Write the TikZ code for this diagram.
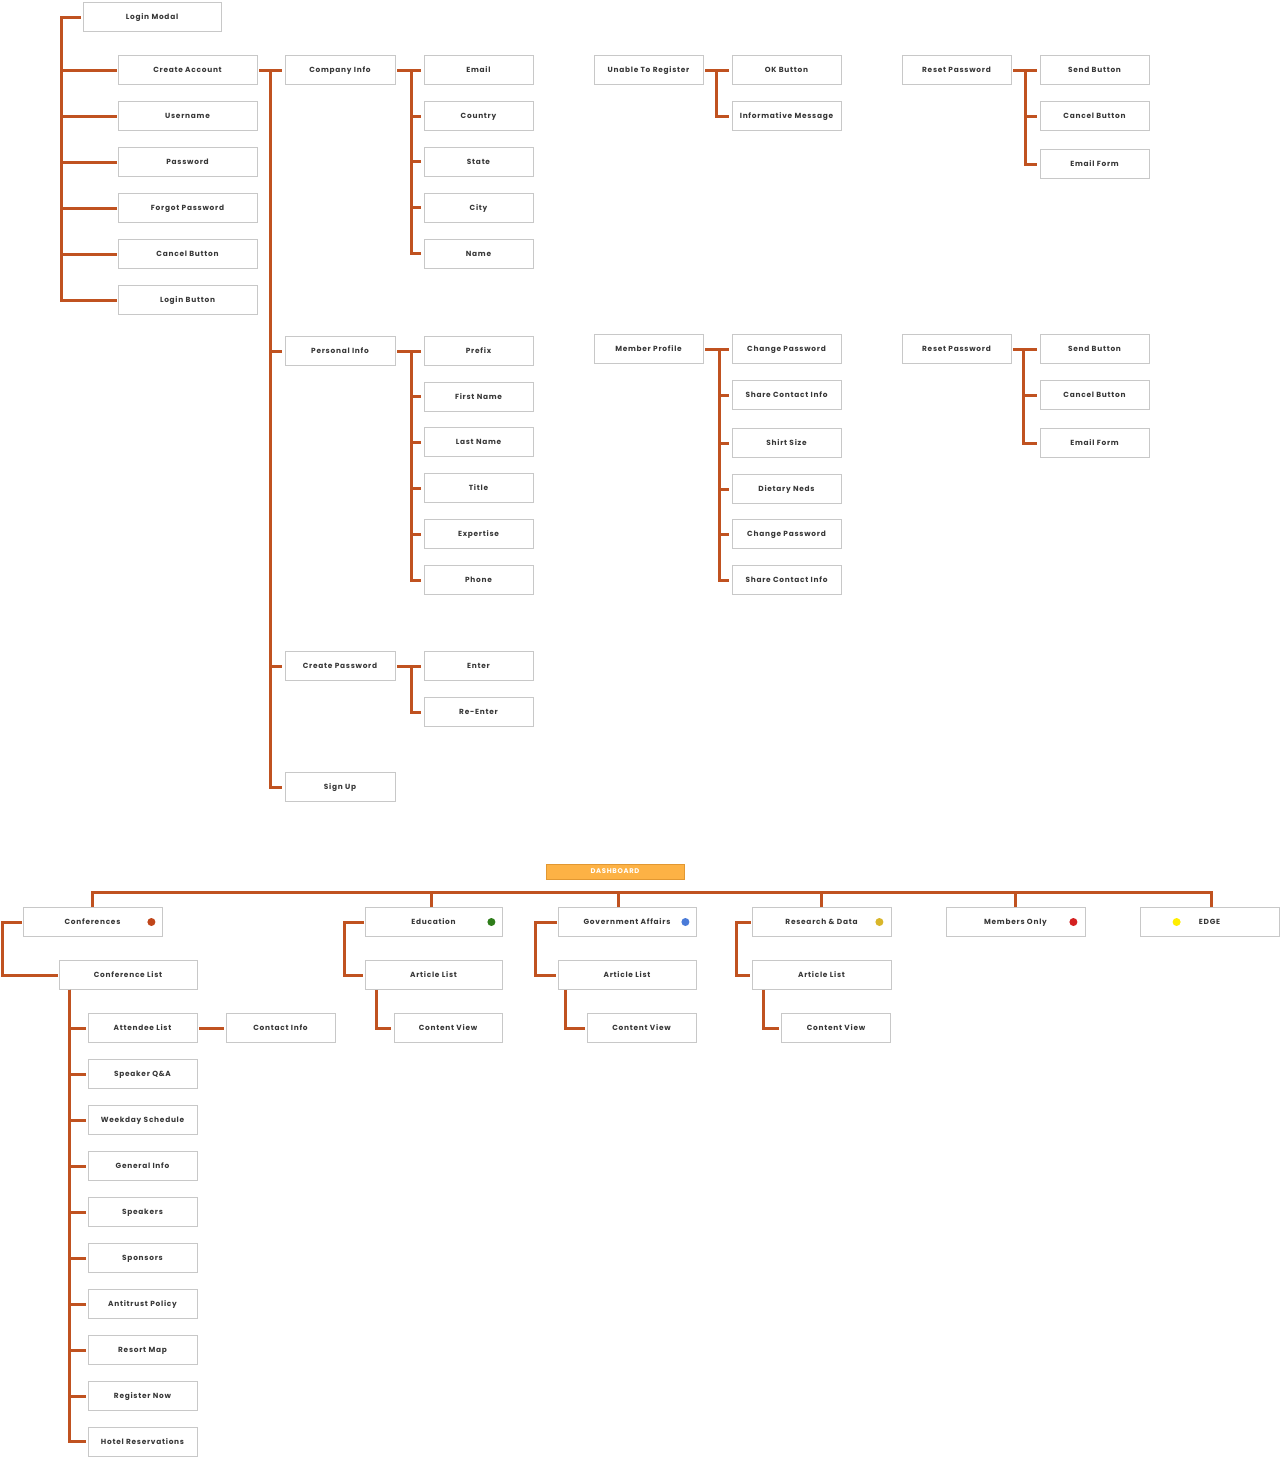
\documentclass[tikz,border=0pt]{standalone}
\usepackage{fontspec}
\newfontfamily\boxfont[LetterSpace=10]{Poppins}
\definecolor{conncol}{RGB}{192,82,32}
\definecolor{txtcol}{RGB}{55,55,55}
\definecolor{bordcol}{RGB}{200,200,200}
\definecolor{dashfill}{RGB}{253,178,69}
\definecolor{dashbord}{RGB}{226,152,50}
\definecolor{dotconf}{RGB}{192,70,26}
\definecolor{dotedu}{RGB}{46,125,26}
\definecolor{dotgov}{RGB}{74,123,216}
\definecolor{dotrd}{RGB}{217,182,42}
\definecolor{dotmo}{RGB}{212,32,32}
\definecolor{dotedge}{RGB}{255,238,0}
\tikzset{
  box/.style={draw=bordcol, line width=0.8pt, fill=white, minimum height=29pt, minimum width=109pt,
    inner sep=0pt, text height=5.2pt, text depth=0pt, font=\boxfont\bfseries\fontsize{7.4}{8}\selectfont, text=txtcol},
  wbox/.style={box, minimum width=139pt},
  conn/.style={draw=conncol, line width=3pt},
}
\newcommand\mytree[3]{\foreach \c in {#3}{\draw[conn] (#1.east) ++(2,0) -- ++(#2,0) |- ([xshift=-3pt]\c.west);}}
\begin{document}
\begin{tikzpicture}[x=1pt,y=-1pt]
\useasboundingbox (0,0) rectangle (1282,1460);
% ---------- Login ----------
\node[box, minimum width=138pt] (lm) at (152,17) {Login Modal};
\node[wbox] (ca) at (187.5,70) {Create Account};
\node[wbox] (un) at (187.5,116) {Username};
\node[wbox] (pw) at (187.5,162) {Password};
\node[wbox] (fp) at (187.5,208) {Forgot Password};
\node[wbox] (cb) at (187.5,254) {Cancel Button};
\node[wbox] (lb) at (187.5,300) {Login Button};
\foreach \c in {ca,un,pw,fp,cb,lb}{\draw[conn] (lm.west) ++(-2,0) -- ++(-19,0) |- ([xshift=-1pt]\c.west);}
% Create account branches
\node[box, minimum width=110pt] (ci) at (340,70) {Company Info};
\node[box, minimum width=110pt] (pi) at (340,351) {Personal Info};
\node[box, minimum width=110pt] (cp) at (340,666) {Create Password};
\node[box, minimum width=110pt] (su) at (340,787) {Sign Up};
\mytree{ca}{11}{ci,pi,cp,su}
% company info
\node[box] (em) at (478.5,70) {Email};
\node[box] (co) at (478.5,116) {Country};
\node[box] (st) at (478.5,161.5) {State};
\node[box] (cy) at (478.5,207.5) {City};
\node[box] (nm) at (478.5,253.5) {Name};
\mytree{ci}{14}{em,co,st,cy,nm}
% personal info
\node[box] (pr) at (478.5,351) {Prefix};
\node[box] (fn) at (478.5,396.5) {First Name};
\node[box] (ln) at (478.5,442) {Last Name};
\node[box] (ti) at (478.5,488) {Title};
\node[box] (ex) at (478.5,534) {Expertise};
\node[box] (ph) at (478.5,580) {Phone};
\mytree{pi}{14}{pr,fn,ln,ti,ex,ph}
% create password
\node[box] (en) at (478.5,666) {Enter};
\node[box] (re) at (478.5,712) {Re-Enter};
\mytree{cp}{14}{en,re}
% unable to register
\node[box] (ur) at (648.5,70) {Unable To Register};
\node[box] (ok) at (786.5,70) {OK Button};
\node[box] (im) at (786.5,116) {Informative Message};
\mytree{ur}{11}{ok,im}
% reset password 1
\node[box] (rpa) at (956.5,70) {Reset Password};
\node[box] (sba) at (1094.5,70) {Send Button};
\node[box] (cba) at (1094.5,116) {Cancel Button};
\node[box] (efa) at (1094.5,164) {Email Form};
\mytree{rpa}{12}{sba,cba,efa}
% member profile
\node[box] (mp) at (648.5,349) {Member Profile};
\node[box] (mpa) at (786.5,349) {Change Password};
\node[box] (mpb) at (786.5,395) {Share Contact Info};
\node[box] (mpc) at (786.5,443) {Shirt Size};
\node[box] (mpd) at (786.5,489) {Dietary Neds};
\node[box] (mpe) at (786.5,534) {Change Password};
\node[box] (mpf) at (786.5,580) {Share Contact Info};
\mytree{mp}{14}{mpa,mpb,mpc,mpd,mpe,mpf}
% reset password 2
\node[box] (rpb) at (956.5,349) {Reset Password};
\node[box] (sbb) at (1094.5,349) {Send Button};
\node[box] (cbb) at (1094.5,395) {Cancel Button};
\node[box] (efb) at (1094.5,443) {Email Form};
\mytree{rpb}{10}{sbb,cbb,efb}
% ---------- Dashboard ----------
\node[draw=dashbord, fill=dashfill, line width=0.8pt, minimum width=138pt, minimum height=15pt, inner sep=0pt,
  text height=4.8pt, text depth=0pt, font=\boxfont\bfseries\fontsize{6.8}{7}\selectfont, text=white] (db) at (615,871.5) {DASHBOARD};
\node[wbox] (conf) at (92.5,922) {Conferences};
\node[box, minimum width=137pt] (edu) at (433.5,922) {Education};
\node[box, minimum width=138pt] (gov) at (627,922) {Government Affairs};
\node[wbox] (rd) at (821.5,922) {Research \& Data};
\node[wbox] (mo) at (1015.5,922) {Members Only};
\node[wbox] (edge) at (1209.5,922) {EDGE};
\draw[conn] (conf.north) -- ++(0,-15) -| ([xshift=1.5pt]edge.north);
\draw[conn] ([xshift=-2.5pt]edu.north) -- ++(0,-15);
\draw[conn] ([xshift=-9pt]gov.north) -- ++(0,-15);
\draw[conn] (rd.north) -- ++(0,-15);
\draw[conn] (mo.north) -- ++(0,-15);
\fill[dotconf] ([xshift=-11pt]conf.east) circle (4pt);
\fill[dotedu] ([xshift=-11pt]edu.east) circle (4pt);
\fill[dotgov] ([xshift=-11pt]gov.east) circle (4pt);
\fill[dotrd] ([xshift=-12pt]rd.east) circle (4pt);
\fill[dotmo] ([xshift=-12pt]mo.east) circle (4pt);
\fill[dotedge] ([xshift=37pt]edge.west) circle (4pt);
% conferences
\node[box, minimum width=138pt] (cl) at (128,975) {Conference List};
\draw[conn] (conf.west) ++(-1,0) -- ++(-19,0) |- ([xshift=-1pt]cl.west);
\node[box] (al) at (142.5,1028) {Attendee List};
\node[box] (sq) at (142.5,1074) {Speaker Q\&A};
\node[box] (ws) at (142.5,1120) {Weekday Schedule};
\node[box] (gi) at (142.5,1166) {General Info};
\node[box] (sp) at (142.5,1212) {Speakers};
\node[box] (so) at (142.5,1258) {Sponsors};
\node[box] (ap) at (142.5,1304) {Antitrust Policy};
\node[box] (rm) at (142.5,1350) {Resort Map};
\node[box] (rn) at (142.5,1396) {Register Now};
\node[box] (hr) at (142.5,1441.5) {Hotel Reservations};
\foreach \c in {al,sq,ws,gi,sp,so,ap,rm,rn,hr}{\draw[conn] ([xshift=11pt]cl.south west) |- ([xshift=-2pt]\c.west);}
\node[box] (ct) at (280.5,1028) {Contact Info};
\draw[conn] (al.east) ++(2,0) -- ([xshift=-2pt]ct.west);
% education
\node[box, minimum width=137pt] (ea) at (433.5,975) {Article List};
\node[box, minimum width=108pt] (ec) at (448,1028) {Content View};
\draw[conn] (edu.west) ++(-1,0) -- ++(-19,0) |- ([xshift=-2pt]ea.west);
\draw[conn] ([xshift=12pt]ea.south west) |- ([xshift=-3pt]ec.west);
% government
\node[box, minimum width=138pt] (ga) at (627,975) {Article List};
\node[box] (gc) at (641.5,1028) {Content View};
\draw[conn] (gov.west) ++(-1,0) -- ++(-21,0) |- ([xshift=-2pt]ga.west);
\draw[conn] ([xshift=8pt]ga.south west) |- ([xshift=-2pt]gc.west);
% research
\node[wbox] (ra) at (821.5,975) {Article List};
\node[box] (rc) at (836,1028) {Content View};
\draw[conn] (rd.west) ++(-1,0) -- ++(-14,0) |- ([xshift=-2pt]ra.west);
\draw[conn] ([xshift=12pt]ra.south west) |- ([xshift=-2pt]rc.west);
\end{tikzpicture}
\end{document}
